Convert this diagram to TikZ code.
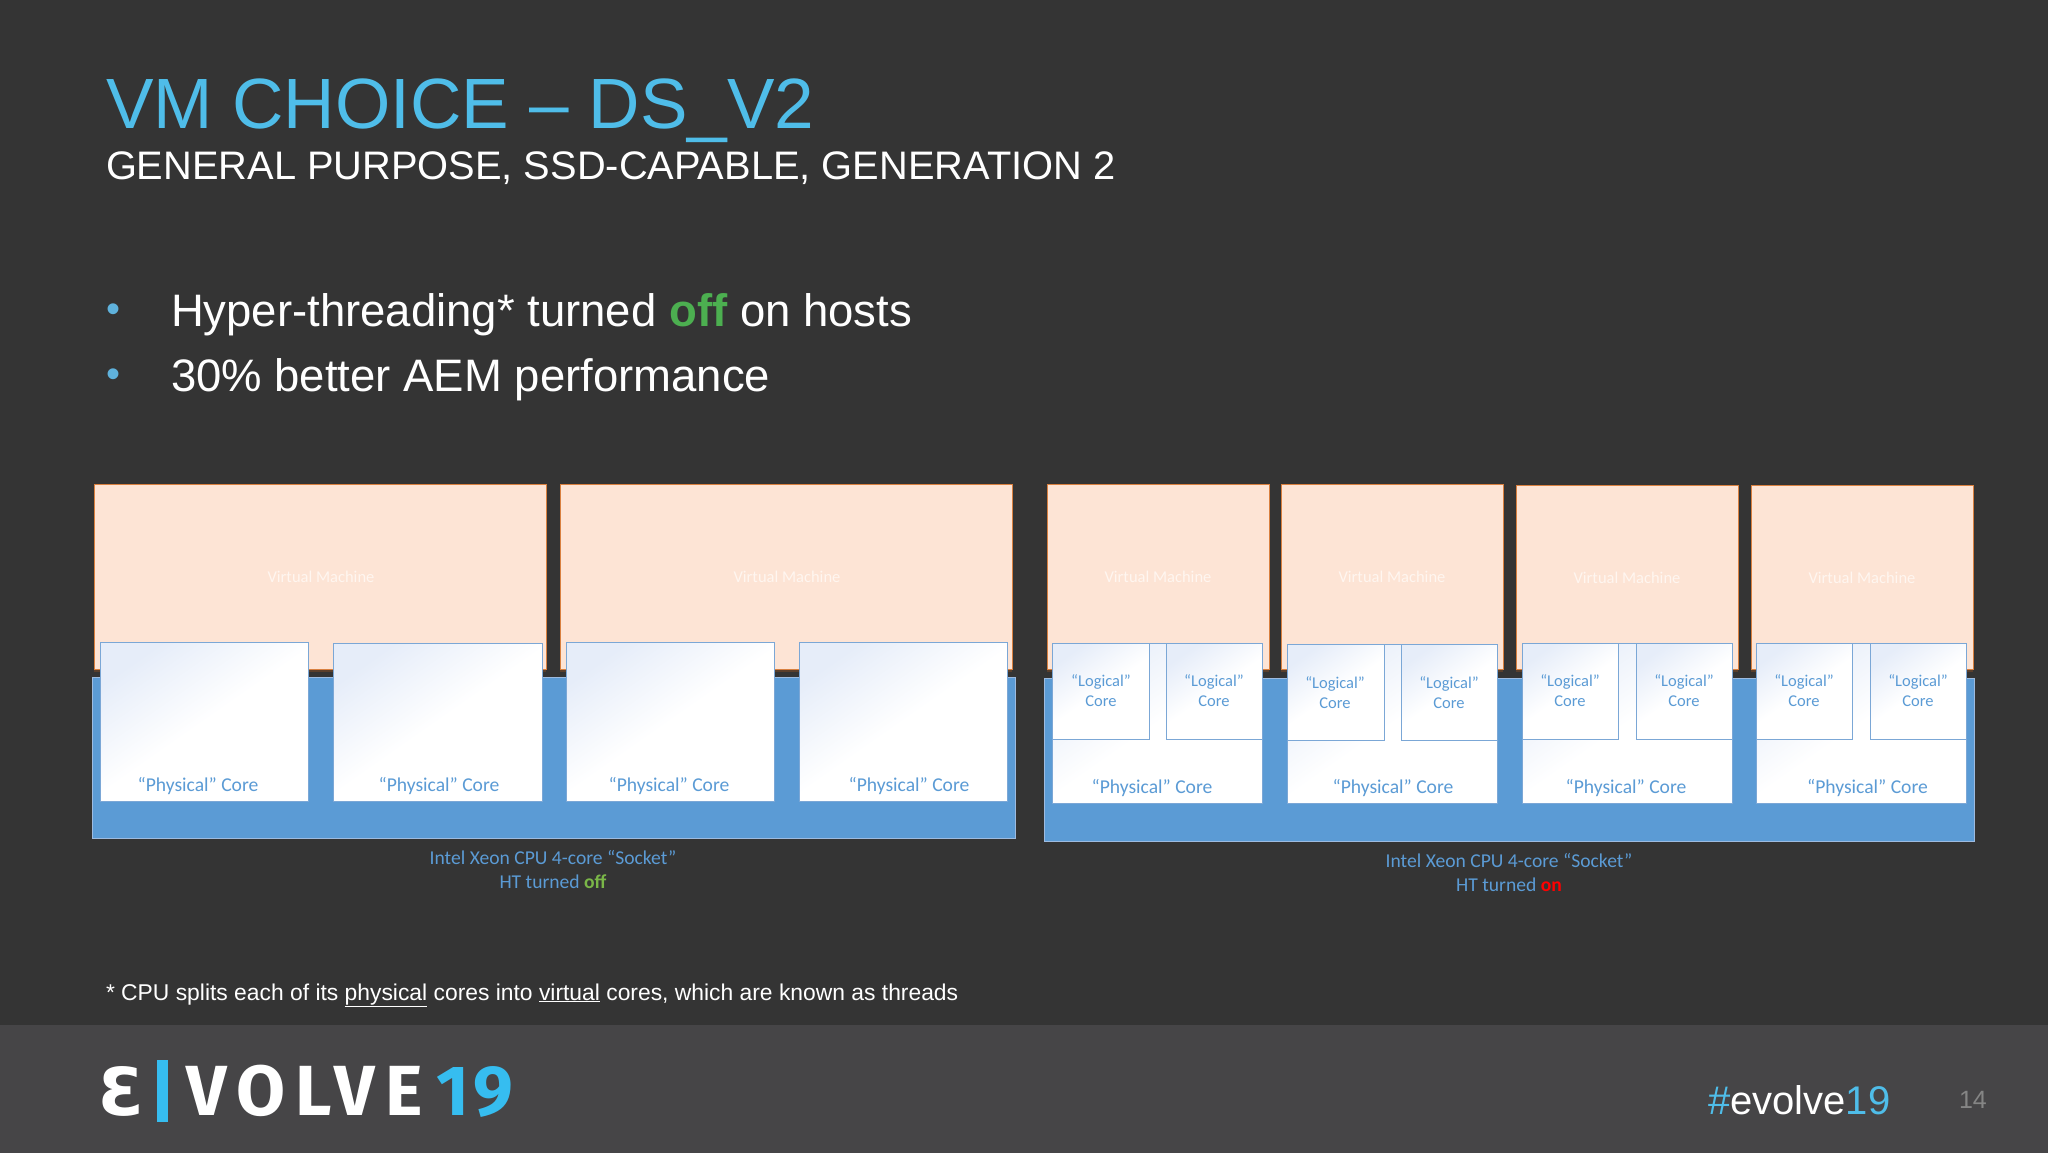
\documentclass[tikz,border=0pt]{standalone}
\usepackage{fontspec}
\usepackage{graphicx}
\setmainfont{Liberation Sans}
\newfontfamily\calib{Carlito}
\newfontfamily\logofont[LetterSpace=14]{Fira Sans}
\newfontfamily\logofontb[LetterSpace=6]{Fira Sans}
\newfontfamily\logoe{DejaVu Sans}
\definecolor{bgdark}{HTML}{343434}
\definecolor{footbg}{HTML}{464547}
\definecolor{titleblue}{HTML}{4FBDE9}
\definecolor{bulletblue}{HTML}{5FB2DC}
\definecolor{sockblue}{HTML}{5B9BD5}
\definecolor{sockedge}{HTML}{9DBBE0}
\definecolor{peach}{HTML}{FDE4D5}
\definecolor{peachedge}{HTML}{D9803F}
\definecolor{vmtext}{HTML}{FFF6F0}
\definecolor{coreedge}{HTML}{7BA7D6}
\definecolor{coretint}{HTML}{E6EDF9}
\definecolor{offgreen}{HTML}{4CAF50}
\definecolor{offlabel}{HTML}{7AB648}
\definecolor{logoblue}{HTML}{36BDF0}
\definecolor{pagenum}{HTML}{858585}
\definecolor{vmshadow}{HTML}{5A3F2C}
\newcommand{\rectnode}[6]{%
  \pgfmathsetmacro{\rw}{#5-#3}\pgfmathsetmacro{\rh}{#6-#4}%
  \node[#1,anchor=north west,minimum width=\rw pt,minimum height=\rh pt] (#2) at (#3,#4) {};}
\tikzset{
  x=1pt,y=-1pt,
  every node/.style={inner sep=0pt,outer sep=0pt},
  vmbox/.style={fill=peach,draw=peachedge,line width=1pt},
  socketbox/.style={fill=sockblue,draw=sockedge,line width=1pt},
  corebox/.style={draw=coreedge,line width=.9pt,top color=coretint,bottom color=white,middle color=white,shading angle=35},
  logicbox/.style={draw=coreedge,line width=.9pt,top color=coretint,bottom color=white,middle color=white,shading angle=35},
  vmlabel/.style={font=\calib\fontsize{16.5}{18}\selectfont,text=vmtext},
  corelabel/.style={font=\calib\fontsize{19.6}{22}\selectfont,text=sockblue},
  logiclabel/.style={font=\calib\fontsize{16.5}{20}\selectfont,text=sockblue,align=center},
  socklabel/.style={font=\calib\fontsize{19.6}{24}\selectfont,text=sockblue,align=center},
  txt/.style={anchor=base west,text=white},
}
\begin{document}
\begin{tikzpicture}
\useasboundingbox (0,0) rectangle (2048,1152);
\fill[bgdark] (-5,-5) rectangle (2053,1160);
\fill[footbg] (-5,1025) rectangle (2053,1160);

% heading
\node[txt,text=titleblue,font=\fontsize{71.2}{80}\selectfont] (title) at (106,128) {VM CHOICE – DS\_V2};
\node[txt,font=\fontsize{39.8}{48}\selectfont] (subtitle) at (106,179) {GENERAL PURPOSE, SSD-CAPABLE, GENERATION 2};

% bullets
\node[text=bulletblue,font=\fontsize{40}{40}\selectfont] (b1) at (114,313) {•};
\node[text=bulletblue,font=\fontsize{40}{40}\selectfont] (b2) at (114,378) {•};
\node[txt,font=\fontsize{45.5}{54}\selectfont] (l1) at (171,326) {Hyper-threading* turned \textcolor{offgreen}{\textbf{off}} on hosts};
\node[txt,font=\fontsize{45.5}{54}\selectfont] (l2) at (171,391) {30\% better AEM performance};

% left: virtual machines
\fill[vmshadow] (94,668) rectangle (546,672);
\fill[vmshadow] (560,668) rectangle (1012,672);
\rectnode{vmbox}{vma}{94}{484}{546}{669}
\rectnode{vmbox}{vmb}{560}{484}{1012}{669}
\node[vmlabel] (vmat) at (321,577) {Virtual Machine};
\node[vmlabel] (vmbt) at (787,577) {Virtual Machine};
\rectnode{socketbox}{socka}{92}{677}{1015}{838}
\rectnode{corebox}{ca}{100.5}{642}{308.5}{801}
\rectnode{corebox}{cb}{333}{643}{542}{801}
\rectnode{corebox}{cc}{566}{642}{774.5}{801}
\rectnode{corebox}{cd}{799}{642}{1007.5}{801}
\node[corelabel] (cat) at (198,786) {“Physical” Core};
\node[corelabel] (cbt) at (439,786) {“Physical” Core};
\node[corelabel] (cct) at (669,786) {“Physical” Core};
\node[corelabel] (cdt) at (909,786) {“Physical” Core};
\node[socklabel] (sockat) at (553,869) {Intel Xeon CPU 4-core “Socket”\\HT turned \textcolor{offlabel}{\textbf{off}}};

% right: virtual machines
\fill[vmshadow] (1047,668) rectangle (1269,672);
\fill[vmshadow] (1281,668) rectangle (1503,672);
\fill[vmshadow] (1516,668) rectangle (1738,672);
\fill[vmshadow] (1751,668) rectangle (1973,672);
\rectnode{vmbox}{vmc}{1047}{484}{1269}{669}
\rectnode{vmbox}{vmd}{1281}{484.5}{1503}{669}
\rectnode{vmbox}{vme}{1516}{485}{1738}{669}
\rectnode{vmbox}{vmf}{1751}{485}{1973}{669}
\node[vmlabel] (vmct) at (1158,577) {Virtual Machine};
\node[vmlabel] (vmdt) at (1392,577) {Virtual Machine};
\node[vmlabel] (vmet) at (1627,578) {Virtual Machine};
\node[vmlabel] (vmft) at (1862,578) {Virtual Machine};
\rectnode{socketbox}{sockb}{1044}{678}{1974}{841}
\rectnode{corebox}{ce}{1052.5}{643}{1262.5}{803}
\rectnode{corebox}{cf}{1287.5}{644}{1497.5}{803}
\rectnode{corebox}{cg}{1522}{643}{1732}{803}
\rectnode{corebox}{ch}{1756}{643}{1966}{803}
\node[corelabel] (cet) at (1152,788) {“Physical” Core};
\node[corelabel] (cft) at (1393,788) {“Physical” Core};
\node[corelabel] (cgt) at (1626,788) {“Physical” Core};
\node[corelabel] (cht) at (1867.5,788) {“Physical” Core};
\rectnode{logicbox}{la}{1052.5}{643}{1149}{739}
\rectnode{logicbox}{lb}{1166}{643}{1262.5}{739}
\rectnode{logicbox}{lc}{1287.5}{644}{1384}{740}
\rectnode{logicbox}{ld}{1401}{644}{1497.5}{740}
\rectnode{logicbox}{le}{1522}{643}{1618}{739}
\rectnode{logicbox}{lf}{1636}{643}{1732}{739}
\rectnode{logicbox}{lg}{1756}{643}{1852.5}{739}
\rectnode{logicbox}{lh}{1870}{643}{1966}{739}
\node[logiclabel] (lat) at (1101,691) {“Logical”\\Core};
\node[logiclabel] (lbt) at (1214,691) {“Logical”\\Core};
\node[logiclabel] (lct) at (1335,692.5) {“Logical”\\Core};
\node[logiclabel] (ldt) at (1449,692.5) {“Logical”\\Core};
\node[logiclabel] (let) at (1570,691) {“Logical”\\Core};
\node[logiclabel] (lft) at (1684,691) {“Logical”\\Core};
\node[logiclabel] (lgt) at (1804,691) {“Logical”\\Core};
\node[logiclabel] (lht) at (1918,691) {“Logical”\\Core};
\node[socklabel] (sockbt) at (1509,872) {Intel Xeon CPU 4-core “Socket”\\HT turned \textcolor{red}{\textbf{on}}};

% footnote
\node[txt,font=\fontsize{22.85}{28}\selectfont] (foot) at (106,1000) {* CPU splits each of its \underline{physical} cores into \underline{virtual} cores, which are known as threads};

% logo
\node[anchor=base,text=white,font=\logoe\bfseries\fontsize{66}{70}\selectfont] (logoe) at (121,1115) {Ɛ};
\fill[logoblue] (157,1060) rectangle (168,1122);
\node[anchor=base west,text=white,font=\logofont\bfseries\fontsize{71}{76}\selectfont] (logov) at (186,1115) {VOLVE};
\node[anchor=base west,text=logoblue,font=\logofontb\bfseries\fontsize{71}{76}\selectfont] (logon) at (436,1115) {19};

% hashtag and page
\node[txt,font=\fontsize{40}{46}\selectfont] (hash) at (1708,1114) {\textcolor{titleblue}{\#}evolve\textcolor{titleblue}{19}};
\node[txt,text=pagenum,font=\fontsize{25}{30}\selectfont] (pg) at (1959,1108) {14};
\end{tikzpicture}
\end{document}
